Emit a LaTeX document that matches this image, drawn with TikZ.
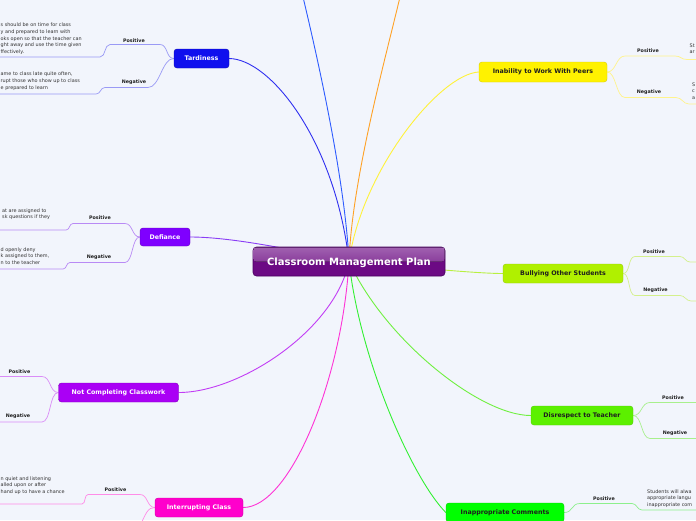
\documentclass[tikz,border=0pt]{standalone}
\usepackage{fontspec}
\setmainfont{DejaVu Sans}
\pgfdeclarelayer{bg}
\pgfdeclarelayer{lines}
\pgfsetlayers{bg,lines,main}
\definecolor{bgc}{HTML}{F2F5FC}
\definecolor{labelc}{HTML}{1E1E1E}
\definecolor{bodyc}{HTML}{333333}
\definecolor{darkt}{HTML}{1E1E1E}
% topic colours
\definecolor{ctard}{HTML}{1010EE}
\definecolor{cdef}{HTML}{7F00FF}
\definecolor{cnotc}{HTML}{AA00F5}
\definecolor{cint}{HTML}{FF00CC}
\definecolor{cinap}{HTML}{00FF00}
\definecolor{cinab}{HTML}{FFF200}
\definecolor{cbull}{HTML}{B0F000}
\definecolor{cdisr}{HTML}{5CF000}
% connector colours
\definecolor{ltard}{HTML}{3030F0}
\definecolor{ltop}{HTML}{2D5BFF}
\definecolor{lorange}{HTML}{FFA125}
\definecolor{linab}{HTML}{FFF23A}
\definecolor{lbull}{HTML}{B8F040}
\definecolor{ldisr}{HTML}{70F040}
\definecolor{linap}{HTML}{33F033}
\definecolor{lint}{HTML}{FF33D6}
\definecolor{lnotc}{HTML}{C23DF5}
\definecolor{ldef}{HTML}{8A3DF5}
% sub-branch colours
\definecolor{stard}{HTML}{9A9AF5}
\definecolor{sdef}{HTML}{B98AF5}
\definecolor{snotc}{HTML}{DA8CF7}
\definecolor{sint}{HTML}{FF8CE8}
\definecolor{sinap}{HTML}{8CF08C}
\definecolor{sdisr}{HTML}{A8F08C}
\definecolor{sbull}{HTML}{D4F08C}
\definecolor{sinab}{HTML}{FFF38C}
% centre
\definecolor{cpdark}{HTML}{6C0A84}
\definecolor{cplight}{HTML}{A060B0}
\definecolor{cpmid}{HTML}{8A3E9C}
\definecolor{cpborder}{HTML}{4A0060}
\begin{document}
\begin{tikzpicture}[x=1pt,y=-1pt,
  topic/.style={rounded corners=3pt, minimum height=19pt, inner sep=0pt,
    font=\bfseries\fontsize{6.3}{7}\selectfont, text=white, line width=0.4pt},
  lbl/.style={font=\bfseries\fontsize{4.8}{5.5}\selectfont, text=labelc, inner sep=0pt},
  body/.style={font=\fontsize{4.9}{6.6}\selectfont, text=bodyc, align=left, inner sep=0pt, anchor=north west},
  conn/.style={line width=0.9pt},
  sub/.style={line width=0.7pt}]
\begin{pgfonlayer}{bg}
\fill[bgc] (0,0) rectangle (696,520);
\end{pgfonlayer}
\path[use as bounding box] (0,0) rectangle (696,520);

% centre node
\node[draw=cpborder, fill=cpdark, rounded corners=3.5pt, minimum width=192pt, minimum height=29pt, inner sep=0pt, line width=0.6pt] (c) at (349,261.5) {};
\fill[top color=cplight, bottom color=cpmid, rounded corners=2.5pt] ([shift={(0.8,0.8)}]c.north west) rectangle ([shift={(-0.8,0)}]c.east);
\node[font=\bfseries\fontsize{10}{12}\selectfont, text=white, inner sep=0pt] (ct) at (349,262.5) {Classroom Management Plan};

% topic nodes
\node[topic, fill=ctard, draw=ctard!75!black, minimum width=55pt] (t) at (201.5,58.5) {Tardiness};
\node[topic, fill=cdef, draw=cdef!75!black, minimum width=50pt, minimum height=18pt] (d) at (165,237) {Defiance};
\node[topic, fill=cnotc, draw=cnotc!75!black, minimum width=120pt] (n) at (118.5,392.5) {Not Completing Classwork};
\node[topic, fill=cint, draw=cint!80!black, minimum width=88pt] (i) at (199,507.5) {Interrupting Class};
\node[topic, fill=cinap, draw=cinap!80!black, text=darkt, minimum width=118pt] (a) at (505,512.5) {Inappropriate Comments};
\node[topic, fill=cinab, draw=cinab!85!black, text=darkt, minimum width=128pt, minimum height=20pt] (w) at (543,72) {Inability to Work With Peers};
\node[topic, fill=cbull, draw=cbull!85!black, text=darkt, minimum width=120pt] (b) at (563,273.5) {Bullying Other Students};
\node[topic, fill=cdisr, draw=cdisr!85!black, text=darkt, minimum width=102pt] (r) at (582,415.5) {Disrespect to Teacher};

% free ends and bends
\coordinate (top1) at (303,-3);
\coordinate (top2) at (400,-3);
\coordinate (tp1) at (160,44.5); \coordinate (tp2) at (110,44.5); \coordinate (tp3) at (100,57); \coordinate (tp4) at (-5,57);
\coordinate (tn1) at (148,87.5); \coordinate (tn2) at (105,87.5); \coordinate (tn3) at (96,94); \coordinate (tn4) at (-5,94);
\coordinate (dp1) at (125,223.5); \coordinate (dp2) at (73,223.5); \coordinate (dp3) at (66,230); \coordinate (dp4) at (-5,230);
\coordinate (dn1) at (125,262.5); \coordinate (dn2) at (70,262.5); \coordinate (dn3) at (63,269); \coordinate (dn4) at (-5,269);
\coordinate (np1) at (42,376.5); \coordinate (np2) at (-5,376.5);
\coordinate (nn1) at (42,422); \coordinate (nn2) at (-5,422);
\coordinate (ip1) at (140,494.5); \coordinate (ip2) at (88,494.5); \coordinate (ip3) at (82,504); \coordinate (ip4) at (-5,504);
\coordinate (in1) at (140,526);
\coordinate (ap1) at (580,503.5); \coordinate (ap2) at (632,503.5); \coordinate (ap3) at (642,510); \coordinate (ap4) at (701,510);
\coordinate (wp1) at (625,56); \coordinate (wp2) at (675,56); \coordinate (wp3) at (687,59.5); \coordinate (wp4) at (701,59.5);
\coordinate (wn1) at (625,97.5); \coordinate (wn2) at (676,97.5); \coordinate (wn3) at (689,104); \coordinate (wn4) at (701,104);
\coordinate (bp1) at (635,256.5); \coordinate (bp2) at (680,256.5); \coordinate (bp3) at (690,262); \coordinate (bp4) at (701,262);
\coordinate (bn1) at (635,295.5); \coordinate (bn2) at (680,295.5); \coordinate (bn3) at (691,301); \coordinate (bn4) at (701,301);
\coordinate (rp1) at (650,402.5); \coordinate (rp2) at (701,402.5);
\coordinate (rn1) at (650,438.5); \coordinate (rn2) at (701,438.5);

% labels
\node[lbl] (tpl) at (134,40.5) {Positive};
\node[lbl] (tnl) at (134,82.5) {Negative};
\node[lbl] (dpl) at (100,217.5) {Positive};
\node[lbl] (dnl) at (99,257.5) {Negative};
\node[lbl] (npl) at (19.5,371.5) {Positive};
\node[lbl] (nnl) at (18,416.5) {Negative};
\node[lbl] (ipl) at (115.5,489.5) {Positive};
\node[lbl] (apl) at (604,498.5) {Positive};
\node[lbl] (wpl) at (648,50.5) {Positive};
\node[lbl] (wnl) at (649,92.5) {Negative};
\node[lbl] (bpl) at (654,251.5) {Positive};
\node[lbl] (bnl) at (655.5,290.5) {Negative};
\node[lbl] (rpl) at (673,397.5) {Positive};
\node[lbl] (rnl) at (675,433.5) {Negative};

% body texts (as far as they are visible)
\node[body] (tpt) at (0.5,23) {s should be on time for class\\y and prepared to learn with\\oks open so that the teacher can\\ght away and use the time given\\ffectively.};
\node[body] (tnt) at (0.5,72) {ame to class late quite often,\\rupt those who show up to class\\e prepared to learn};
\node[body] (dpt) at (2,208.4) {at are assigned to\\sk questions if they};
\node[body] (dnt) at (0.5,247.4) {d openly deny\\k assigned to them,\\n to the teacher};
\node[body] (ipt) at (0.5,476.4) {n quiet and listening\\alled upon or after\\hand up to have a chance};
\node[body] (apt) at (647,489.4) {Students will alwa\\appropriate langu\\inappropriate com};
\node[body] (wpt) at (689.5,43.4) {St\\ar};
\node[body] (wnt) at (692,82.4) {S\\c\\a};

% connectors
\begin{pgfonlayer}{lines}
\draw[conn, ltop] (c.center) .. controls (345,180) and (318,60) .. (top1);
\draw[conn, lorange] (c.center) .. controls (352,180) and (385,60) .. (top2);
\draw[conn, ltard] (c.center) .. controls (335,140) and (270,59) .. (t.east);
\draw[conn, ldef] (c.center) .. controls (290,249) and (230,237) .. (d.east);
\draw[conn, lnotc] (c.center) .. controls (335,330) and (240,392.5) .. (n.east);
\draw[conn, lint] (c.center) .. controls (342,380) and (290,507.5) .. (i.east);
\draw[conn, linap] (c.center) .. controls (360,360) and (412,478) .. (a.west);
\draw[conn, ldisr] (c.center) .. controls (385,340) and (480,415.5) .. (r.west);
\draw[conn, lbull] (c.center) .. controls (430,269) and (480,273.5) .. (b.west);
\draw[conn, linab] (c.center) .. controls (362,170) and (440,74) .. (w.west);

\draw[sub, stard] (t.west) .. controls +(-8,0) and +(8,0) .. (tp1) -- (tp2) .. controls +(-6,0) and +(6,0) .. (tp3) -- (tp4);
\draw[sub, stard] (t.west) .. controls +(-12,0) and +(12,0) .. (tn1) -- (tn2) .. controls +(-5,0) and +(5,0) .. (tn3) -- (tn4);
\draw[sub, sdef] (d.west) .. controls +(-8,0) and +(8,0) .. (dp1) -- (dp2) .. controls +(-4,0) and +(4,0) .. (dp3) -- (dp4);
\draw[sub, sdef] (d.west) .. controls +(-8,0) and +(8,0) .. (dn1) -- (dn2) .. controls +(-4,0) and +(4,0) .. (dn3) -- (dn4);
\draw[sub, snotc] (n.west) .. controls +(-9,0) and +(9,0) .. (np1) -- (np2);
\draw[sub, snotc] (n.west) .. controls +(-9,0) and +(9,0) .. (nn1) -- (nn2);
\draw[sub, sint] (i.west) .. controls +(-8,0) and +(8,0) .. (ip1) -- (ip2) .. controls +(-4,0) and +(4,0) .. (ip3) -- (ip4);
\draw[sub, sint] (i.west) .. controls +(-7,0) and (146,513) .. (in1);
\draw[sub, sinap] (a.east) .. controls +(9,0) and +(-9,0) .. (ap1) -- (ap2) .. controls +(5,0) and +(-5,0) .. (ap3) -- (ap4);
\draw[sub, sinab] (w.east) .. controls +(9,0) and +(-9,0) .. (wp1) -- (wp2) .. controls +(6,0) and +(-6,0) .. (wp3) -- (wp4);
\draw[sub, sinab] (w.east) .. controls +(9,0) and +(-9,0) .. (wn1) -- (wn2) .. controls +(6,0) and +(-6,0) .. (wn3) -- (wn4);
\draw[sub, sbull] (b.east) .. controls +(7,0) and +(-7,0) .. (bp1) -- (bp2) .. controls +(5,0) and +(-5,0) .. (bp3) -- (bp4);
\draw[sub, sbull] (b.east) .. controls +(7,0) and +(-7,0) .. (bn1) -- (bn2) .. controls +(5,0) and +(-5,0) .. (bn3) -- (bn4);
\draw[sub, sdisr] (r.east) .. controls +(9,0) and +(-9,0) .. (rp1) -- (rp2);
\draw[sub, sdisr] (r.east) .. controls +(9,0) and +(-9,0) .. (rn1) -- (rn2);
\end{pgfonlayer}
\end{tikzpicture}
\end{document}
